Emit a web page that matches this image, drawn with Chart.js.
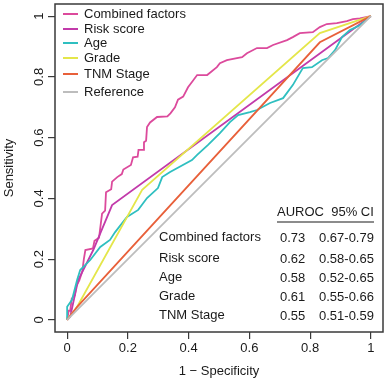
<!DOCTYPE html>
<html>
<head>
<meta charset="utf-8">
<script src="https://cdn.jsdelivr.net/npm/chart.js@4.4.1/dist/chart.umd.min.js"></script>
<style>
  html, body { margin: 0; padding: 0; background: #fff; }
  #wrap { width: 386px; height: 380px; }
</style>
</head>
<body>
<div id="wrap"><canvas id="roc" width="386" height="380"></canvas></div>
<script>
// ROC curves: [1 - specificity, sensitivity]
const combinedPts = [[0,0],[0.005,0.03],[0.01,0.03],[0.015,0.07],[0.025,0.08],[0.03,0.11],[0.04,0.13],[0.05,0.16],[0.055,0.2],[0.06,0.23],[0.085,0.235],[0.09,0.26],[0.105,0.27],[0.11,0.31],[0.115,0.35],[0.125,0.36],[0.128,0.42],[0.145,0.43],[0.148,0.455],[0.165,0.47],[0.18,0.48],[0.185,0.495],[0.21,0.51],[0.217,0.535],[0.232,0.537],[0.235,0.56],[0.25,0.56],[0.253,0.585],[0.26,0.59],[0.263,0.635],[0.273,0.65],[0.296,0.668],[0.33,0.67],[0.34,0.68],[0.355,0.70],[0.365,0.725],[0.382,0.735],[0.398,0.766],[0.411,0.783],[0.428,0.806],[0.461,0.806],[0.493,0.832],[0.503,0.845],[0.526,0.855],[0.559,0.862],[0.576,0.865],[0.592,0.878],[0.625,0.895],[0.658,0.895],[0.678,0.905],[0.724,0.921],[0.743,0.931],[0.766,0.944],[0.809,0.947],[0.832,0.964],[0.855,0.974],[0.888,0.977],[0.921,0.984],[0.941,0.99],[0.964,0.993],[1,1]];
const riskPts = [[0,0],[0.01,0.01],[0.036,0.13],[0.086,0.23],[0.148,0.378],[1,1]];
const agePts = [[0,0],[0,0.043],[0.016,0.066],[0.033,0.132],[0.043,0.164],[0.076,0.197],[0.109,0.24],[0.141,0.263],[0.158,0.289],[0.197,0.339],[0.234,0.362],[0.263,0.401],[0.299,0.434],[0.313,0.47],[0.339,0.487],[0.411,0.526],[0.428,0.543],[0.464,0.576],[0.503,0.615],[0.536,0.651],[0.563,0.674],[0.602,0.684],[0.625,0.691],[0.668,0.714],[0.711,0.73],[0.743,0.773],[0.776,0.829],[0.806,0.832],[0.839,0.855],[0.859,0.862],[0.882,0.888],[0.905,0.931],[0.931,0.954],[0.964,0.97],[1,1]];
const gradePts = [[0,0],[0.033,0.043],[0.247,0.428],[0.832,0.944],[1,1]];
const tnmPts = [[0,0],[0.033,0.043],[0.832,0.914],[1,1]];
const referencePts = [[0,0],[1,1]];

const seriesNames = ['Combined factors', 'Risk score', 'Age', 'Grade', 'TNM Stage', 'Reference'];
const seriesColors = ['#dc4a9c', '#c23aaa', '#2fbfc0', '#e4e64a', '#e8603a', '#bdbdbd'];

const xTickValues = [0, 0.2, 0.4, 0.6, 0.8, 1];
const xTickLabels = ['0', '0.2', '0.4', '0.6', '0.8', '1'];
const yTickValues = [0, 0.2, 0.4, 0.6, 0.8, 1];
const yTickLabels = ['0', '0.2', '0.4', '0.6', '0.8', '1'];

const tableNames = ['Combined factors', 'Risk score', 'Age', 'Grade', 'TNM Stage'];
const tableAuroc = ['0.73', '0.62', '0.58', '0.61', '0.55'];
const tableCI = ['0.67-0.79', '0.58-0.65', '0.52-0.65', '0.55-0.66', '0.51-0.59'];

const FONT = '13px "Liberation Sans", Arial, Helvetica, sans-serif';
const INK = '#1a1a1a';

const toXY = pts => pts.map(p => ({ x: p[0], y: p[1] }));
const allPts = [combinedPts, riskPts, agePts, gradePts, tnmPts, referencePts];

// box round the plot, rotated y labels, legend and AUROC table
const decor = {
  id: 'decor',
  afterDraw(chart) {
    const { ctx, chartArea: a, scales: { y } } = chart;
    ctx.save();
    ctx.strokeStyle = '#3a3a3a';
    ctx.lineWidth = 1.5;
    ctx.strokeRect(a.left, a.top, a.right - a.left, a.bottom - a.top);

    ctx.font = FONT;
    ctx.fillStyle = INK;
    ctx.textAlign = 'center';
    ctx.textBaseline = 'middle';
    y.ticks.forEach((t, i) => {
      ctx.save();
      ctx.translate(a.left - 16, y.getPixelForValue(t.value));
      ctx.rotate(-Math.PI / 2);
      ctx.fillText(yTickLabels[i], 0, 0);
      ctx.restore();
    });

    // legend
    const legY = [14, 29, 43, 58, 74, 92];
    ctx.textAlign = 'left';
    seriesNames.forEach((n, i) => {
      ctx.strokeStyle = seriesColors[i];
      ctx.lineWidth = 2;
      ctx.beginPath();
      ctx.moveTo(a.left + 8, legY[i]);
      ctx.lineTo(a.left + 23, legY[i]);
      ctx.stroke();
      ctx.fillStyle = INK;
      ctx.fillText(n, a.left + 29, legY[i]);
    });

    // AUROC table
    ctx.fillText('AUROC  95% CI', 277, 212);
    ctx.strokeStyle = INK;
    ctx.lineWidth = 1.2;
    ctx.beginPath();
    ctx.moveTo(277, 222);
    ctx.lineTo(374, 222);
    ctx.stroke();
    const rowY = [237, 258, 277, 296, 315];
    tableNames.forEach((n, i) => {
      ctx.fillText(n, 159, rowY[i]);
      ctx.fillText(tableAuroc[i], 280, rowY[i] + 1);
      ctx.fillText(tableCI[i], 319, rowY[i] + 1);
    });
    ctx.restore();
  }
};

new Chart(document.getElementById('roc'), {
  type: 'line',
  data: {
    datasets: seriesNames.map((n, i) => ({
      label: n,
      data: toXY(allPts[i]),
      borderColor: seriesColors[i],
      borderWidth: 1.8,
      pointRadius: 0,
      tension: 0,
      fill: false,
      order: 5 - i,
    })),
  },
  options: {
    responsive: false,
    animation: false,
    layout: { padding: { top: 4, right: 3, left: 0, bottom: 0 } },
    plugins: { legend: { display: false }, tooltip: { enabled: false } },
    scales: {
      x: {
        type: 'linear', min: -0.04, max: 1.04,
        afterBuildTicks: s => { s.ticks = xTickValues.map(v => ({ value: v })); },
        afterFit: s => { s.height = 48; },
        ticks: {
          color: INK, padding: 2, maxRotation: 0,
          font: { family: '"Liberation Sans", Arial, sans-serif', size: 13 },
          callback: (v, i) => xTickLabels[i],
        },
        grid: { drawOnChartArea: false, drawTicks: true, tickLength: 7, color: '#3a3a3a', lineWidth: 1.2 },
        border: { display: false },
        title: {
          display: true, text: '1 − Specificity', color: INK,
          font: { family: '"Liberation Sans", Arial, sans-serif', size: 13 },
          padding: { top: 0, bottom: 1 },
        },
      },
      y: {
        type: 'linear', min: -0.04, max: 1.04,
        afterBuildTicks: s => { s.ticks = yTickValues.map(v => ({ value: v })); },
        afterFit: s => { s.width = 55; },
        ticks: { display: false },
        grid: { drawOnChartArea: false, drawTicks: true, tickLength: 7, color: '#3a3a3a', lineWidth: 1.2 },
        border: { display: false },
        title: {
          display: true, text: 'Sensitivity', color: INK,
          font: { family: '"Liberation Sans", Arial, sans-serif', size: 13 },
          padding: { top: 2, bottom: 0 },
        },
      },
    },
  },
  plugins: [decor],
});
</script>
</body>
</html>
